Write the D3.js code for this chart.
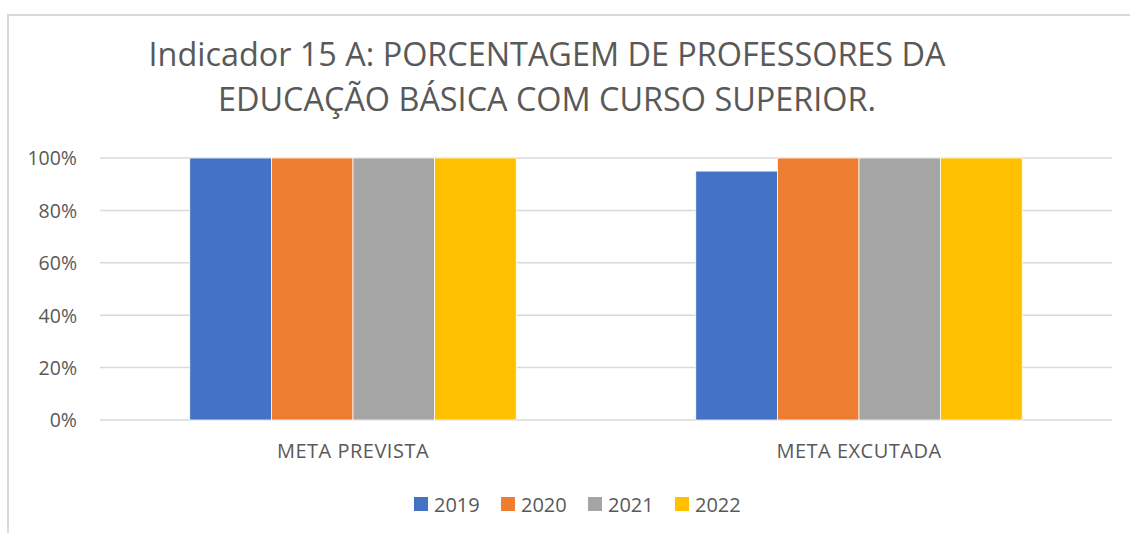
<!DOCTYPE html>
<html>
<head>
<meta charset="utf-8">
<script src="https://cdn.jsdelivr.net/npm/d3@7"></script>
<style>
  body { margin: 0; background: #fff; }
  text { font-family: "Open Sans", sans-serif; fill: #595959; }
</style>
</head>
<body>
<div id="chart"></div>
<script>
// chart data
let categories = ["META PREVISTA", "META EXCUTADA"];
let years = ["2019", "2020", "2021", "2022"];
let values2019 = [1.00, 0.95];
let values2020 = [1.00, 1.00];
let values2021 = [1.00, 1.00];
let values2022 = [1.00, 1.00];
let yTicks = [0, 0.2, 0.4, 0.6, 0.8, 1.0];
let titleLines = ["Indicador 15 A: PORCENTAGEM DE PROFESSORES DA", "EDUCAÇÃO BÁSICA COM CURSO SUPERIOR."];
let colors = ["#4472c4", "#ed7d31", "#a5a5a5", "#ffc000"];

let seriesValues = [values2019, values2020, values2021, values2022];

let width = 1130, height = 533;
let margin = { top: 158, right: 18, bottom: 113, left: 100 };

let svg = d3.select("#chart")
  .append("svg")
  .attr("width", width)
  .attr("height", height);

// outer chart border (right and bottom edges are cut off in the picture)
svg.append("path")
  .attr("d", "M8,540 L8,15 L1140,15")
  .attr("fill", "none")
  .attr("stroke", "#d9d9d9")
  .attr("stroke-width", 2);

// title
let titleWidths = [797, 658];
svg.selectAll(".title")
  .data(titleLines)
  .enter()
  .append("text")
  .attr("class", "title")
  .attr("x", 547)
  .attr("y", function (d, i) { return 66 + i * 45; })
  .attr("text-anchor", "middle")
  .attr("textLength", function (d, i) { return titleWidths[i]; })
  .attr("lengthAdjust", "spacingAndGlyphs")
  .style("font-size", "33px")
  .text(function (d) { return d; });

// scales
let x0 = d3.scaleBand()
  .domain(categories)
  .range([margin.left, width - margin.right]);

let x1 = d3.scaleBand()
  .domain(years)
  .range([0, x0.bandwidth()])
  .paddingInner(0)
  .paddingOuter(1.1);

let y = d3.scaleLinear()
  .domain([0, 1])
  .range([height - margin.bottom, margin.top]);

// gridlines
svg.append("g")
  .selectAll("line")
  .data(yTicks)
  .enter()
  .append("line")
  .attr("x1", margin.left)
  .attr("x2", width - margin.right)
  .attr("y1", function (d) { return y(d); })
  .attr("y2", function (d) { return y(d); })
  .attr("stroke", "#d9d9d9")
  .attr("stroke-width", 1.5);

// y axis labels
let yAxis = svg.append("g")
  .attr("transform", "translate(" + (margin.left - 23) + ",0)")
  .call(d3.axisLeft(y).tickValues(yTicks).tickFormat(d3.format(".0%")).tickSize(0).tickPadding(0));
yAxis.select(".domain").remove();
yAxis.selectAll("text")
  .style("font-size", "19.5px")
  .style("font-family", "'Open Sans', sans-serif")
  .attr("fill", "#595959")
  .attr("dy", "0.35em");

// x axis labels
let xAxis = svg.append("g")
  .attr("transform", "translate(0," + (height - margin.bottom) + ")")
  .call(d3.axisBottom(x0).tickSize(0).tickPadding(0));
xAxis.select(".domain").remove();
xAxis.selectAll("text")
  .style("font-size", "20px")
  .style("letter-spacing", "0.5px")
  .style("font-family", "'Open Sans', sans-serif")
  .attr("fill", "#595959")
  .attr("dy", "0")
  .attr("y", 38);

// bars
let bars = [];
categories.forEach(function (c, ci) {
  years.forEach(function (yr, si) {
    bars.push({ cat: c, year: yr, value: seriesValues[si][ci], color: colors[si] });
  });
});

svg.append("g")
  .selectAll("rect")
  .data(bars)
  .enter()
  .append("rect")
  .attr("x", function (d) { return x0(d.cat) + x1(d.year); })
  .attr("y", function (d) { return y(d.value); })
  .attr("width", x1.bandwidth())
  .attr("height", function (d) { return y(0) - y(d.value); })
  .attr("fill", function (d) { return d.color; })
  .attr("stroke", "#ffffff")
  .attr("stroke-width", 0.75);

// legend
let legend = svg.append("g")
  .selectAll("g")
  .data(years)
  .enter()
  .append("g")
  .attr("transform", function (d, i) { return "translate(" + (414 + i * 87) + ",497)"; });

legend.append("rect")
  .attr("width", 14)
  .attr("height", 14)
  .attr("fill", function (d, i) { return colors[i]; });

legend.append("text")
  .attr("x", 20)
  .attr("y", 14.5)
  .style("font-size", "20px")
  .text(function (d) { return d; });
</script>
</body>
</html>
